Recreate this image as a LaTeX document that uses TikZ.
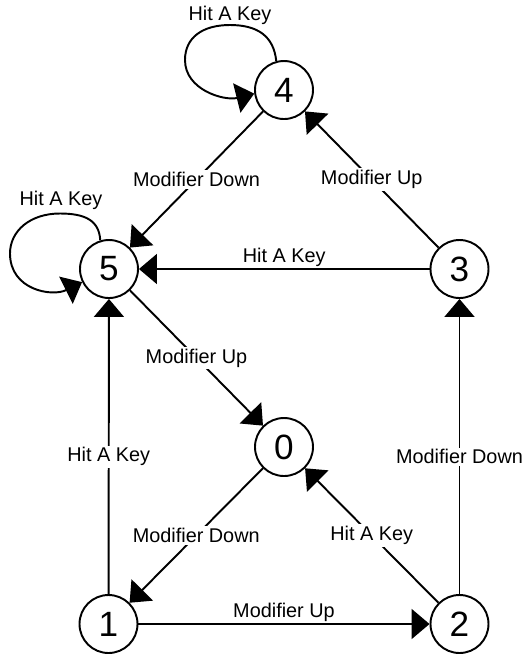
\documentclass[tikz,border=0pt]{standalone}
\usepackage{fontspec}
\setmainfont{Liberation Sans}
\usetikzlibrary{arrows.meta}

\begin{document}
\begin{tikzpicture}[
state/.style = {draw, circle, line width=1.1pt, minimum size=1.16cm, inner sep=0pt, font=\fontsize{20}{22}\selectfont},
lbl/.style = {font=\fontsize{11.3}{13}\selectfont, inner sep=1pt},
cut/.style = {lbl, fill=white},
tr/.style = {line width=1.1pt, -{Triangle[length=0.36cm, width=0.6cm]}}
]
\useasboundingbox (0, 0) rectangle (10.48, -13.12);

\node[state] (q4) at (5.68, -1.80) {4};
\node[state] (q5) at (2.18, -5.38) {5};
\node[state] (q3) at (9.19, -5.38) {3};
\node[state] (q0) at (5.68, -8.94) {0};
\node[state] (q1) at (2.17, -12.48) {1};
\node[state] (q2) at (9.19, -12.48) {2};

% self loops
\draw[tr] (q4.105) .. controls +(-0.05, 0.5) and +(0.55, 0) ..
	(4.60, -0.50) .. controls +(-0.55, 0) and +(0, 0.45) ..
	(3.70, -1.20) .. controls +(0, -0.6) and +(-0.6, -0.15) ..
	(q4.187);
\node[lbl] (k4) at (4.60, -0.30) {Hit A Key};

\draw[tr] (q5.107) .. controls +(-0.02, 0.4) and +(0.5, 0) ..
	(1.20, -4.27) .. controls +(-0.6, 0) and +(0, 0.45) ..
	(0.20, -5.07) .. controls +(0, -0.73) and +(-0.6, -0.3) ..
	(q5.206);
\node[lbl] (k5) at (1.22, -4.00) {Hit A Key};

\draw[tr] (q4) -- node[cut] {Modifier Down} (q5);
\draw[tr] (q3) -- node[cut] {Modifier Up} (q4);
\draw[tr] (q3) -- node[lbl, above] {Hit A Key} (q5);
\draw[tr] (q5) -- node[cut] {Modifier Up} (q0);
\draw[tr] (q0) -- node[cut] {Modifier Down} (q1);
\draw[tr] (q2) -- node[cut] {Hit A Key} (q0);
\draw[tr] (q1) -- node[cut, pos=0.465] {Hit A Key} (q5);
\draw[tr] (q2) -- node[cut, pos=0.465] {Modifier Down} (q3);
\draw[tr] (q1) -- node[lbl, above] {Modifier Up} (q2);
\end{tikzpicture}
\end{document}
